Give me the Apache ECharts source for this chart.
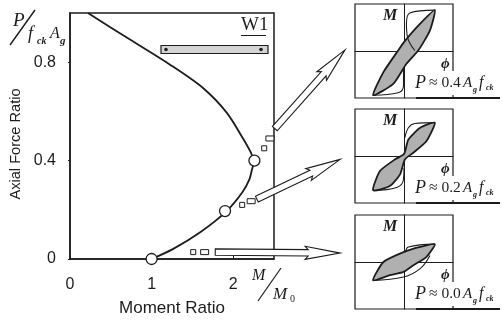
<!DOCTYPE html>
<html><head><meta charset="utf-8">
<style>html,body{margin:0;padding:0;background:#fff}#c{width:502px;height:322px}</style>
<script src="https://cdn.jsdelivr.net/npm/echarts@6/dist/echarts.min.js"></script></head>
<body><div id="c"></div>
<script>
// Main interaction curve: [moment ratio, axial force ratio]
const curve = [[0.22,1.0],[0.72,0.895],[1.226,0.79],[1.63,0.695],[1.92,0.595],[2.12,0.49],[2.22,0.43],[2.25,0.39],[2.23,0.364],[2.2,0.325],[2.11,0.27],[1.92,0.195],[1.6,0.11],[1.26,0.04],[1.0,0.0]];
const markers = [[1.0,0.0],[1.9,0.195],[2.26,0.4]];
const xTicks = [0,1,2];
const yTicks = [0,0.4,0.8];
// Arrows [tailX,tailY,tipX,tipY] and dashes in main-axis units
const arrows = [[2.51,0.53,3.37,0.85],[2.29,0.243,3.31,0.405],[1.78,0.028,3.31,0.024]];
const dashes = [[2.38,0.45],[2.45,0.49],[2.11,0.22],[2.22,0.235],[1.51,0.028],[1.65,0.028]];
// Hysteresis insets: filled lens + thin outer branches
const lens04 = [[-.63,-.94],[-.42,-.45],[-.12,.01],[.0,.19],[.33,.58],[.63,.87],[.53,.44],[.29,.01],[.05,-.27],[-.22,-.70]];
const upper04 = [[.63,.87],[.12,.81],[.05,.58],[.07,.30],[.22,.01]];
const lower04 = [[-.63,-.94],[-.12,-.89],[-.01,-.73],[-.01,-.34]];
const lens02 = [[-.63,-.73],[-.49,-.32],[-.18,-.07],[0,.04],[.09,.35],[.33,.6],[.63,.71],[.46,.32],[.19,.07],[.02,-.07],[-.08,-.39],[-.29,-.64]];
const upper02 = [[.63,.71],[.22,.69],[.09,.6],[.02,.39]];
const lower02 = [[-.63,-.73],[-.15,-.67],[-.01,-.5],[0,-.25]];
const lens00 = [[-.63,-.39],[-.42,0],[-.01,.21],[.33,.32],[.63,.38],[.46,.11],[.19,-.07],[-.01,-.21],[-.29,-.28]];
const upper00 = [[.63,.38],[.09,.32],[.03,.21]];
const lower00 = [[-.63,-.39],[-.01,-.32],[.33,-.14],[.53,.14]];
const insetLabels = ['0.4','0.2','0.0'];

const serif = '"Liberation Serif","DejaVu Serif",serif';
const sans = '"Liberation Sans",Arial,sans-serif';
const ink = '#1c1c1c';

const panels = [
 {lens:lens04,up:upper04,lo:lower04,top:4,h:94,label:insetLabels[0]},
 {lens:lens02,up:upper02,lo:lower02,top:109,h:94,label:insetLabels[1]},
 {lens:lens00,up:upper00,lo:lower00,top:215,h:94,label:insetLabels[2]}
];

const grids=[{left:70,top:13,width:204,height:247,show:true,borderColor:ink,borderWidth:1.5,backgroundColor:'transparent'}];
const xAxes=[{type:'value',min:0,max:2.5,interval:1,gridIndex:0,splitLine:{show:false},
  axisLine:{lineStyle:{color:ink,width:1.5}},
  axisTick:{inside:true,length:3,customValues:xTicks,lineStyle:{color:ink}},
  axisLabel:{customValues:xTicks,color:ink,fontFamily:sans,fontSize:16,margin:18,alignMinLabel:'center'},
  name:'Moment Ratio',nameLocation:'middle',nameGap:41,nameTextStyle:{color:ink,fontFamily:sans,fontSize:17}}];
const yAxes=[{type:'value',min:0,max:1,interval:0.2,gridIndex:0,splitLine:{show:false},
  axisLine:{lineStyle:{color:ink,width:1.5}},
  axisTick:{length:2,customValues:yTicks,lineStyle:{color:ink}},
  axisLabel:{customValues:yTicks,color:ink,fontFamily:sans,fontSize:16,margin:14,padding:[4,0,0,0],verticalAlignMinLabel:'middle',formatter:v=>v===0?'0':v.toFixed(1)},
  name:'Axial Force Ratio',nameLocation:'middle',nameGap:47,nameTextStyle:{color:ink,fontFamily:sans,fontSize:14.6,padding:[0,16,0,0]}}];

const series=[
 {type:'line',data:curve,smooth:0.3,symbol:'none',lineStyle:{color:ink,width:1.8},xAxisIndex:0,yAxisIndex:0,z:3,clip:false},
 {type:'scatter',data:markers,symbol:'circle',symbolSize:11,itemStyle:{color:'#fff',opacity:1,borderColor:ink,borderWidth:1.3},z:4,xAxisIndex:0,yAxisIndex:0,clip:false},
 {type:'custom',xAxisIndex:0,yAxisIndex:0,z:5,clip:false,data:arrows,encode:{x:[0,2],y:[1,3]},
  renderItem(p,api){
   const a=api.coord([api.value(0),api.value(1)]),b=api.coord([api.value(2),api.value(3)]);
   const dx=b[0]-a[0],dy=b[1]-a[1],L=Math.hypot(dx,dy),u=[dx/L,dy/L],n=[-u[1],u[0]];
   const P=(t,s)=>[a[0]+u[0]*t+n[0]*s,a[1]+u[1]*t+n[1]*s];
   const hb=L-32;
   return {type:'polygon',shape:{points:[P(0,-3.2),P(hb,-3.2),P(hb-3,-6.5),P(L,0),P(hb-3,6.5),P(hb,3.2),P(0,3.2)]},
     style:{fill:'#fff',stroke:ink,lineWidth:1.1}};
  }},
 {type:'custom',xAxisIndex:0,yAxisIndex:0,z:5,clip:false,data:dashes,encode:{x:0,y:1},
  renderItem(p,api){
   const c=api.coord([api.value(0),api.value(1)]);
   const w=p.dataIndex%2?8:5;
   return {type:'rect',shape:{x:c[0]-w/2,y:c[1]-2.5,width:w,height:5},style:{fill:'#fff',stroke:ink,lineWidth:1}};
  }}
];

panels.forEach((pn,i)=>{
  const g=i+1;
  grids.push({left:355,top:pn.top,width:98,height:pn.h,show:true,borderColor:ink,borderWidth:1.2,backgroundColor:'transparent'});
  const ax={type:'value',min:-1,max:1,gridIndex:g,splitLine:{show:false},axisTick:{show:false},axisLabel:{show:false},axisLine:{onZero:true,lineStyle:{color:ink,width:1}}};
  xAxes.push({...ax});
  yAxes.push({...ax});
  series.push({type:'custom',xAxisIndex:g,yAxisIndex:g,z:3,data:pn.lens,encode:{x:0,y:1},
    renderItem(p,api){
      if(p.dataIndex!==0) return;
      return {type:'polygon',shape:{smooth:0.2,points:pn.lens.map(d=>api.coord(d))},
        style:{fill:'#b0b0b0',stroke:ink,lineWidth:1.8}};
    }});
  [pn.up,pn.lo].forEach(d=>series.push({type:'line',xAxisIndex:g,yAxisIndex:g,data:d,smooth:0.4,symbol:'none',lineStyle:{color:ink,width:1.1},z:4}));
});

const T=(x,y,text,fs,o={})=>({type:'text',x,y,z:20,style:{text,fontFamily:serif,fontStyle:'italic',fontSize:fs,fill:ink,...o}});
const graphic=[
  T(13,11,'P',19),
  {type:'line',z:20,shape:{x1:10,y1:45,x2:35,y2:10},style:{stroke:ink,lineWidth:1.4}},
  T(28,25,'f',18),T(37,36,'ck',10,{fontWeight:'bold'}),T(50,26,'A',16),T(60,36,'g',11,{fontWeight:'bold'}),
  T(241,16,'W1',19,{fontStyle:'normal'}),
  {type:'line',z:20,shape:{x1:241,y1:35.5,x2:266,y2:35.5},style:{stroke:ink,lineWidth:1}},
  {type:'rect',z:20,shape:{x:161,y:45.5,width:107,height:8},style:{fill:'#d4d4d4',stroke:ink,lineWidth:1.2}},
  {type:'circle',z:21,shape:{cx:166,cy:49.5,r:1.8},style:{fill:ink}},
  {type:'circle',z:21,shape:{cx:261,cy:49.5,r:1.8},style:{fill:ink}},
  T(252,268,'M',16),
  {type:'line',z:20,shape:{x1:258,y1:301,x2:281,y2:268},style:{stroke:ink,lineWidth:1.2}},
  T(273,286,'M',17),T(290,294,'0',10,{fontStyle:'normal'})
];
panels.forEach(pn=>{
  const t=pn.top;
  graphic.push(
    T(383,t+4,'M',16,{fontWeight:'bold'}),
    T(441,t+53,'ϕ',15,{fontWeight:'bold'}),
    {type:'rect',z:19,shape:{x:415,y:t+67,width:87,height:24},style:{fill:'#fff'}},
    T(415,t+70,'P',18),
    T(429,t+71,'≈ '+pn.label,15.5,{fontStyle:'normal'}),
    T(463,t+72,'A',15),T(473,t+82,'g',8,{fontWeight:'bold'}),
    T(479,t+71,'f',16),T(486,t+80,'ck',8,{fontWeight:'bold'}),
    {type:'line',z:20,shape:{x1:416,y1:t+94,x2:500,y2:t+94},style:{stroke:ink,lineWidth:1.8}}
  );
});

const chart=echarts.init(document.getElementById('c'),null,{renderer:'canvas'});
chart.setOption({animation:false,backgroundColor:'#fff',grid:grids,xAxis:xAxes,yAxis:yAxes,series,graphic});
</script></body></html>
